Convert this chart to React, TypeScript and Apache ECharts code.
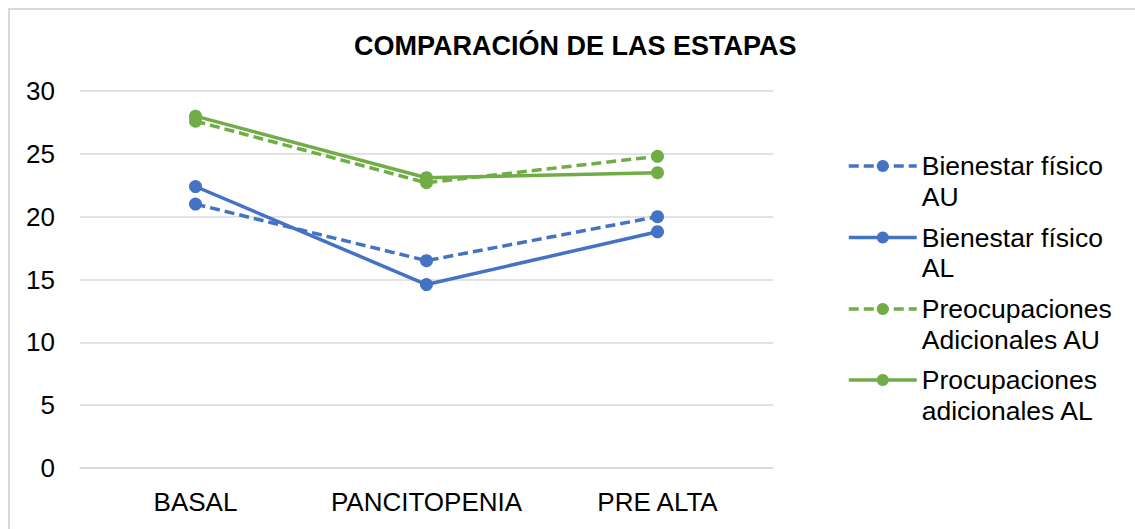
import React, { useEffect, useRef } from "react";
import * as echarts from "echarts";

const categories = ["BASAL", "PANCITOPENIA", "PRE ALTA"];
const bienestarAU = [21.0, 16.5, 20.0];
const bienestarAL = [22.4, 14.6, 18.8];
const preocupacionesAU = [27.6, 22.7, 24.8];
const procupacionesAL = [28.0, 23.1, 23.5];
const seriesNames = [
  "Bienestar físico AU",
  "Bienestar físico AL",
  "Preocupaciones Adicionales AU",
  "Procupaciones adicionales AL",
];
const legendLabels = [
  "Bienestar físico\nAU",
  "Bienestar físico\nAL",
  "Preocupaciones\nAdicionales AU",
  "Procupaciones\nadicionales AL",
];
const titleText = "COMPARACIÓN DE LAS ESTAPAS";

const BLUE = "#4472C4";
const GREEN = "#70AD47";
const FONT = "'Liberation Sans', Arial, sans-serif";
const LH = 30.5;
const legendIconY = [166, 237.5, 309, 380];
const dashedFlags = [true, false, true, false];

export default function App() {
  const ref = useRef<HTMLDivElement>(null);
  useEffect(() => {
    document.body.style.margin = "0";
    const chart = echarts.init(ref.current!, null, { renderer: "svg" });
    const mk = (name: string, data: number[], color: string, dashed: boolean) => ({
      name,
      type: "line",
      data,
      symbol: "circle",
      symbolSize: 13,
      showSymbol: true,
      itemStyle: { color },
      lineStyle: { color, width: 3.5, type: dashed ? [10, 5] : "solid" },
    });
    const legends = seriesNames.map((n, i) => ({
      orient: "vertical",
      left: 847,
      top: legendIconY[i] - 1.5 * LH,
      padding: 0,
      itemWidth: 68,
      itemHeight: 15,
      data: [n],
      formatter: () => "\n" + legendLabels[i],
      lineStyle: { width: 3.5, type: dashedFlags[i] ? [10, 5] : "solid" },
      textStyle: {
        fontFamily: FONT,
        fontSize: 26.5,
        color: "#000",
        lineHeight: LH,
      },
    }));
    chart.setOption({
      animation: false,
      backgroundColor: "#fff",
      graphic: [
        {
          type: "rect",
          shape: { x: 9, y: 9, width: 1200, height: 600 },
          style: { fill: "none", stroke: "#d9d9d9", lineWidth: 2 },
          silent: true,
          z: -10,
        },
      ],
      title: {
        text: titleText,
        left: 354,
        top: 32,
        padding: 0,
        textStyle: { fontFamily: FONT, fontSize: 27, fontWeight: "bold", color: "#000" },
      },
      legend: legends,
      grid: { left: 80, right: 362, top: 91, bottom: 61, containLabel: false },
      xAxis: {
        type: "category",
        data: categories,
        boundaryGap: true,
        axisLine: { lineStyle: { color: "#d9d9d9", width: 1.5 } },
        axisTick: { show: false },
        axisLabel: { fontFamily: FONT, fontSize: 26, color: "#000", margin: 21, interval: 0 },
      },
      yAxis: {
        type: "value",
        min: 0,
        max: 30,
        interval: 5,
        axisLine: { show: false },
        axisTick: { show: false },
        splitLine: { lineStyle: { color: "#d9d9d9", width: 1.5 } },
        axisLabel: { fontFamily: FONT, fontSize: 26, color: "#000", margin: 25 },
      },
      series: [
        mk(seriesNames[0], bienestarAU, BLUE, true),
        mk(seriesNames[1], bienestarAL, BLUE, false),
        mk(seriesNames[2], preocupacionesAU, GREEN, true),
        mk(seriesNames[3], procupacionesAL, GREEN, false),
      ],
    });
    return () => chart.dispose();
  }, []);
  return (
    <div
      ref={ref}
      style={{ position: "absolute", left: 0, top: 0, width: 1135, height: 529 }}
    />
  );
}
